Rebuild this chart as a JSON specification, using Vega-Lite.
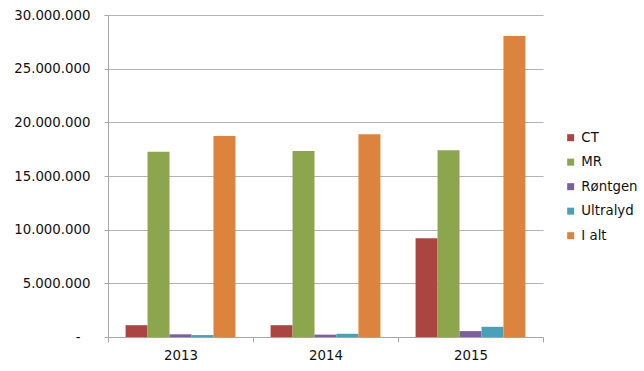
{
  "$schema": "https://vega.github.io/schema/vega-lite/v6.json",
  "autosize": {"type": "none"},
  "width": 435,
  "height": 322,
  "padding": {"left": 108, "top": 15, "right": 101, "bottom": 34},
  "background": "white",
  "data": {
    "values": [
      {"year": "2013", "serie": "CT", "value": 1100000},
      {"year": "2013", "serie": "MR", "value": 17260000},
      {"year": "2013", "serie": "Røntgen", "value": 250000},
      {"year": "2013", "serie": "Ultralyd", "value": 180000},
      {"year": "2013", "serie": "I alt", "value": 18730000},
      {"year": "2014", "serie": "CT", "value": 1100000},
      {"year": "2014", "serie": "MR", "value": 17330000},
      {"year": "2014", "serie": "Røntgen", "value": 220000},
      {"year": "2014", "serie": "Ultralyd", "value": 300000},
      {"year": "2014", "serie": "I alt", "value": 18900000},
      {"year": "2015", "serie": "CT", "value": 9200000},
      {"year": "2015", "serie": "MR", "value": 17400000},
      {"year": "2015", "serie": "Røntgen", "value": 550000},
      {"year": "2015", "serie": "Ultralyd", "value": 950000},
      {"year": "2015", "serie": "I alt", "value": 28050000}
    ]
  },
  "mark": {"type": "bar"},
  "encoding": {
    "x": {
      "field": "year",
      "type": "nominal",
      "scale": {"paddingInner": 0, "paddingOuter": 0},
      "axis": {
        "title": null,
        "labelAngle": 0,
        "tickBand": "extent",
        "tickSize": 5,
        "tickColor": "#a6a6a6",
        "domainColor": "#a6a6a6",
        "labelPadding": 6,
        "labelFontSize": 13.33,
        "labelColor": "#111111",
        "labelFont": "DejaVu Sans"
      }
    },
    "xOffset": {
      "field": "serie",
      "type": "nominal",
      "sort": ["CT", "MR", "Røntgen", "Ultralyd", "I alt"],
      "scale": {"paddingInner": 0, "paddingOuter": 0.8}
    },
    "y": {
      "field": "value",
      "type": "quantitative",
      "scale": {"domain": [0, 30000000], "nice": false},
      "axis": {
        "title": null,
        "values": [0, 5000000, 10000000, 15000000, 20000000, 25000000, 30000000],
        "format": ",d",
        "labelExpr": "datum.value == 0 ? '-' : datum.label",
        "tickSize": 4,
        "tickColor": "#a6a6a6",
        "domainColor": "#a6a6a6",
        "gridColor": "#b3b3b3",
        "labelPadding": {"condition": {"test": "datum.value === 0", "value": 24}, "value": 14},
        "labelFontSize": 13.33,
        "labelColor": "#111111",
        "labelFont": "DejaVu Sans"
      }
    },
    "color": {
      "field": "serie",
      "type": "nominal",
      "sort": ["CT", "MR", "Røntgen", "Ultralyd", "I alt"],
      "scale": {
        "domain": ["CT", "MR", "Røntgen", "Ultralyd", "I alt"],
        "range": ["#ab4542", "#8ba64d", "#7c5f9c", "#48a1b9", "#dc843d"]
      },
      "legend": {
        "title": null,
        "orient": "none",
        "legendX": 456,
        "legendY": 116,
        "padding": 0,
        "symbolType": "square",
        "symbolSize": 49,
        "symbolStrokeWidth": 0,
        "labelOffset": 4,
        "labelFontSize": 13.33,
        "labelFont": "DejaVu Sans",
        "labelColor": "#111111",
        "rowPadding": 10.5
      }
    }
  },
  "config": {
    "locale": {"number": {"decimal": ",", "thousands": ".", "grouping": [3], "currency": ["", " kr."]}},
    "view": {"stroke": null},
    "axis": {"gridWidth": 1, "domainWidth": 1}
  }
}
